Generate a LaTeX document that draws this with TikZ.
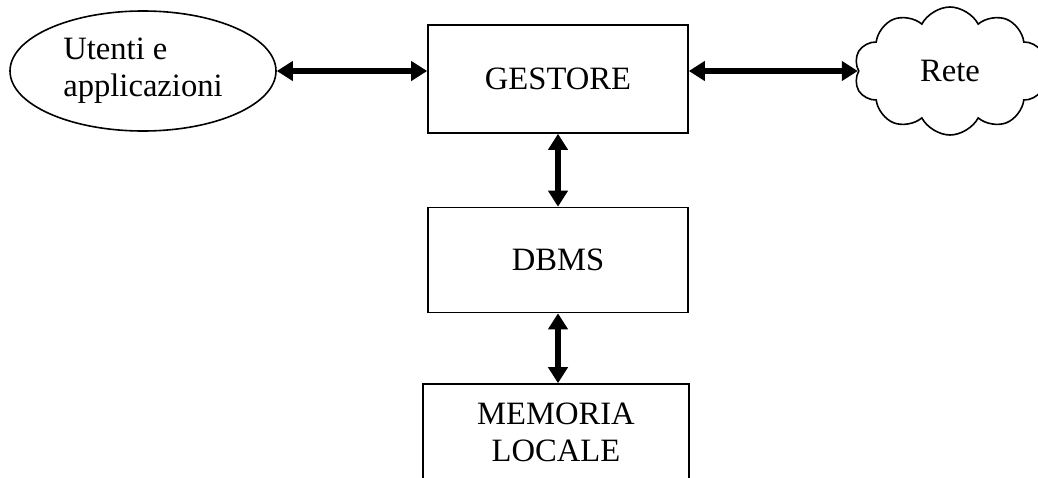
\documentclass[tikz,border=0pt]{standalone}
\usepackage{fontspec}
\setmainfont{Liberation Serif}
\usetikzlibrary{arrows.meta,shapes.geometric,shapes.symbols}

\begin{document}
\begin{tikzpicture}[x=0.5pt,y=-0.5pt,
  box/.style={draw,line width=0.8pt,minimum width=130pt,inner sep=0pt,
    font=\fontsize{16.3}{18.5}\selectfont,align=center},
  link/.style={{Triangle[length=8pt,width=9.5pt]}-{Triangle[length=8pt,width=9.5pt]},line width=2.6pt}]
\useasboundingbox (0,0) rectangle (1038,477);
\clip (0,0) rectangle (1038,477);
\node[box,ellipse,minimum width=133pt,minimum height=60pt,align=left] (users) at (143,71) {Utenti e\\applicazioni};
\node[box,minimum height=54pt] (gestore) at (558,79) {GESTORE};
\node[box,minimum height=52.5pt] (dbms) at (558,260) {DBMS};
\node[box,minimum width=133pt,minimum height=48pt] (memoria) at (556,432) {MEMORIA\\LOCALE};
\node[box,cloud,cloud puffs=10,cloud puff arc=125,aspect=1.5,minimum width=96pt,minimum height=64pt] (rete) at (950,71) {Rete};
\draw[link] (users.east) -- (users.east -| gestore.west);
\draw[link] (gestore.east |- rete.west) -- (rete.west);
\draw[link] (gestore) -- (dbms);
\draw[link] (dbms.south) -- (dbms.south |- memoria.north);
\end{tikzpicture}
\end{document}
